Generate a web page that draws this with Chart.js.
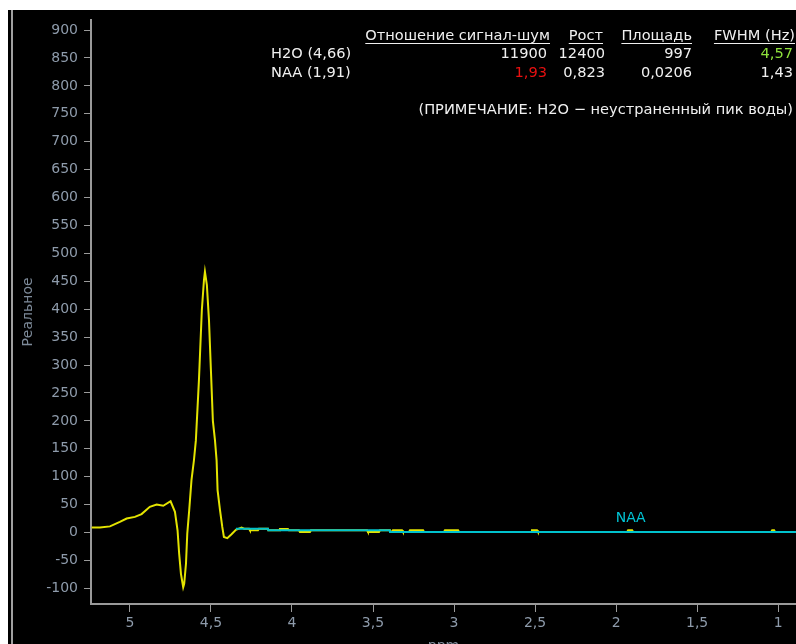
<!DOCTYPE html>
<html>
<head>
<meta charset="utf-8">
<script src="https://cdn.jsdelivr.net/npm/chart.js@4.4.1/dist/chart.umd.min.js"></script>
<style>
  html, body { margin: 0; padding: 0; background: #ffffff; }
  #wrap { position: absolute; left: 0; top: 0; width: 796px; height: 644px; }
</style>
</head>
<body>
<div id="wrap"><canvas id="spec" width="796" height="644"></canvas></div>
<script>
// Measured spectrum (real part), chemical shift in ppm
const measuredPpm = [5.236, 5.185, 5.123, 5.062, 5.02, 4.969, 4.928, 4.877, 4.835, 4.794, 4.749, 4.722, 4.706, 4.696, 4.685, 4.671, 4.665, 4.654, 4.646, 4.634, 4.62, 4.605, 4.593, 4.574, 4.556, 4.543, 4.537, 4.525, 4.512, 4.5, 4.488, 4.475, 4.465, 4.459, 4.444, 4.43, 4.42, 4.399, 4.373, 4.346, 4.311,
  4.295, 4.265, 4.259, 4.21, 4.204, 4.148, 4.146, 4.08, 4.074, 4.025, 4.019, 3.957, 3.951, 3.889, 3.883, 3.537, 3.531, 3.463, 3.457, 3.395, 3.393, 3.383, 3.377, 3.321, 3.315, 3.278, 3.272, 3.191, 3.185, 3.062, 3.056, 2.975, 2.969, 2.525, 2.519, 2.488, 2.482, 1.932, 1.926, 1.901, 1.895, 1.043, 1.037, 1.025, 1.019, 0.89];
const measuredReal = [9, 9, 11, 19, 25, 28, 33, 46, 50, 48, 56, 37, 4, -38, -74, -98, -92, -56, -2, 40, 94, 129, 165, 273, 399, 452, 467, 443, 380, 290, 200, 165, 129, 76, 40, 10, -8, -10, -3, 5, 9,
  7, 7, 4, 4, 7, 7, 4, 4, 6.5, 6.5, 4, 4, 1, 1, 4, 4, 1, 1, 4, 4, 1, 1, 4, 4, 1, 1, 4, 4, 1, 1, 4, 4, 1, 1, 4, 4, 1, 1, 4, 4, 1, 1, 4, 4, 1, 1];

// Fitted baseline + NAA model
const fitPpm = [4.346, 4.148, 4.146, 3.397, 3.395, 0.89];
const fitReal = [7, 7, 4, 4, 1, 1];

// Axis ticks
const xTicks = [5, 4.5, 4, 3.5, 3, 2.5, 2, 1.5, 1];
const yTicks = [-100, -50, 0, 50, 100, 150, 200, 250, 300, 350, 400, 450, 500, 550, 600, 650, 700, 750, 800, 850, 900];

// Peak table
const tableHeaders = ['Отношение сигнал-шум', 'Рост', 'Площадь', 'FWHM (Hz)'];
const peakNames = ['H2O (4,66)', 'NAA (1,91)'];
const peakSnr = ['11900', '1,93'];
const peakHeight = ['12400', '0,823'];
const peakArea = ['997', '0,0206'];
const peakFwhm = ['4,57', '1,43'];
const naaPpm = 1.91;
const naaLabelValue = 1;
const noteText = '(ПРИМЕЧАНИЕ: H2O − неустраненный пик воды)';

const toXY = (xs, ys) => xs.map((x, i) => ({ x: x, y: ys[i] }));
const fmtComma = v => String(v).replace('.', ',');

const FONT = '"DejaVu Sans", sans-serif';
const TICK_COLOR = '#8e9bab';
const AXIS_COLOR = '#9a9a9a';

const panelPlugin = {
  id: 'panel',
  beforeDraw(chart) {
    const ctx = chart.ctx;
    ctx.save();
    ctx.fillStyle = '#ffffff';
    ctx.fillRect(0, 0, chart.width, chart.height);
    ctx.fillStyle = '#000000';
    ctx.fillRect(8, 10, chart.width - 8, chart.height - 10);
    ctx.fillStyle = '#a0a0a0';
    ctx.fillRect(11, 10, 2, chart.height - 10);
    ctx.restore();
  }
};

const textPlugin = {
  id: 'texts',
  afterDraw(chart) {
    const ctx = chart.ctx;
    const xs = chart.scales.x, ys = chart.scales.y;
    const area = chart.chartArea;
    ctx.save();
    ctx.font = '14px ' + FONT;
    ctx.textBaseline = 'alphabetic';

    // axis titles
    ctx.fillStyle = '#7d8a99';
    ctx.textAlign = 'center';
    ctx.fillText('ppm', (area.left + area.right) / 2, 650);
    ctx.save();
    ctx.translate(32, 312);
    ctx.rotate(-Math.PI / 2);
    ctx.fillText('Реальное', 0, 0);
    ctx.restore();

    // peak table
    ctx.font = '14.6px ' + FONT;
    const headRight = [550, 603, 692, 795];
    const valueRight = [547, 605, 692, 793];
    const rowBase = [58, 77];
    ctx.fillStyle = '#f0f0f0';
    ctx.strokeStyle = '#f0f0f0';
    ctx.lineWidth = 1;
    ctx.textAlign = 'right';
    tableHeaders.forEach((h, i) => {
      ctx.fillText(h, headRight[i], 40);
      const w = ctx.measureText(h).width;
      ctx.beginPath();
      ctx.moveTo(headRight[i] - w, 43.5);
      ctx.lineTo(headRight[i], 43.5);
      ctx.stroke();
    });
    ctx.textAlign = 'left';
    peakNames.forEach((n, r) => ctx.fillText(n, 271, rowBase[r]));
    ctx.textAlign = 'right';
    const cols = [peakSnr, peakHeight, peakArea, peakFwhm];
    cols.forEach((col, c) => {
      col.forEach((v, r) => {
        let color = '#f0f0f0';
        if (c === 0 && r === 1) color = '#e81010';
        if (c === 3 && r === 0) color = '#8ee03c';
        ctx.fillStyle = color;
        ctx.fillText(v, valueRight[c], rowBase[r]);
      });
    });
    ctx.fillStyle = '#f0f0f0';
    ctx.fillText(noteText, 793, 114);

    // NAA marker label
    ctx.font = '14px ' + FONT;
    ctx.fillStyle = '#00c4d4';
    ctx.textAlign = 'center';
    ctx.fillText('NAA', xs.getPixelForValue(naaPpm), ys.getPixelForValue(naaLabelValue) - 10);
    ctx.restore();
  }
};

new Chart(document.getElementById('spec'), {
  type: 'scatter',
  data: {
    datasets: [
      {
        label: 'Fit',
        data: toXY(fitPpm, fitReal),
        showLine: true,
        borderColor: '#00c2cc',
        borderWidth: 2,
        pointRadius: 0,
        tension: 0,
        order: 0
      },
      {
        label: 'Real',
        data: toXY(measuredPpm, measuredReal),
        showLine: true,
        borderColor: '#e4e400',
        borderWidth: 2,
        pointRadius: 0,
        tension: 0,
        order: 1
      }
    ]
  },
  options: {
    responsive: false,
    animation: false,
    devicePixelRatio: 1,
    layout: { padding: { top: 20, left: 0, right: 0, bottom: 0 } },
    plugins: { legend: { display: false }, tooltip: { enabled: false } },
    scales: {
      x: {
        type: 'linear',
        reverse: true,
        min: 0.89,
        max: 5.24,
        afterBuildTicks: s => { s.ticks = xTicks.map(v => ({ value: v })); },
        afterFit: s => { s.height = 40; },
        border: { display: true, color: AXIS_COLOR, width: 2 },
        grid: { display: true, drawOnChartArea: false, drawTicks: true, tickLength: 8, color: AXIS_COLOR, lineWidth: 1 },
        ticks: {
          color: TICK_COLOR,
          font: { family: FONT, size: 14 },
          padding: 3,
          maxRotation: 0,
          autoSkip: false,
          callback: v => fmtComma(v)
        }
      },
      y: {
        type: 'linear',
        min: -128,
        max: 918,
        afterBuildTicks: s => { s.ticks = yTicks.map(v => ({ value: v })); },
        afterFit: s => { s.width = 91; },
        border: { display: true, color: AXIS_COLOR, width: 2 },
        grid: { display: true, drawOnChartArea: false, drawTicks: true, tickLength: 7, color: AXIS_COLOR, lineWidth: 1 },
        ticks: {
          color: TICK_COLOR,
          font: { family: FONT, size: 14 },
          padding: 6,
          autoSkip: false,
          callback: v => String(v)
        }
      }
    }
  },
  plugins: [panelPlugin, textPlugin]
});
</script>
</body>
</html>
